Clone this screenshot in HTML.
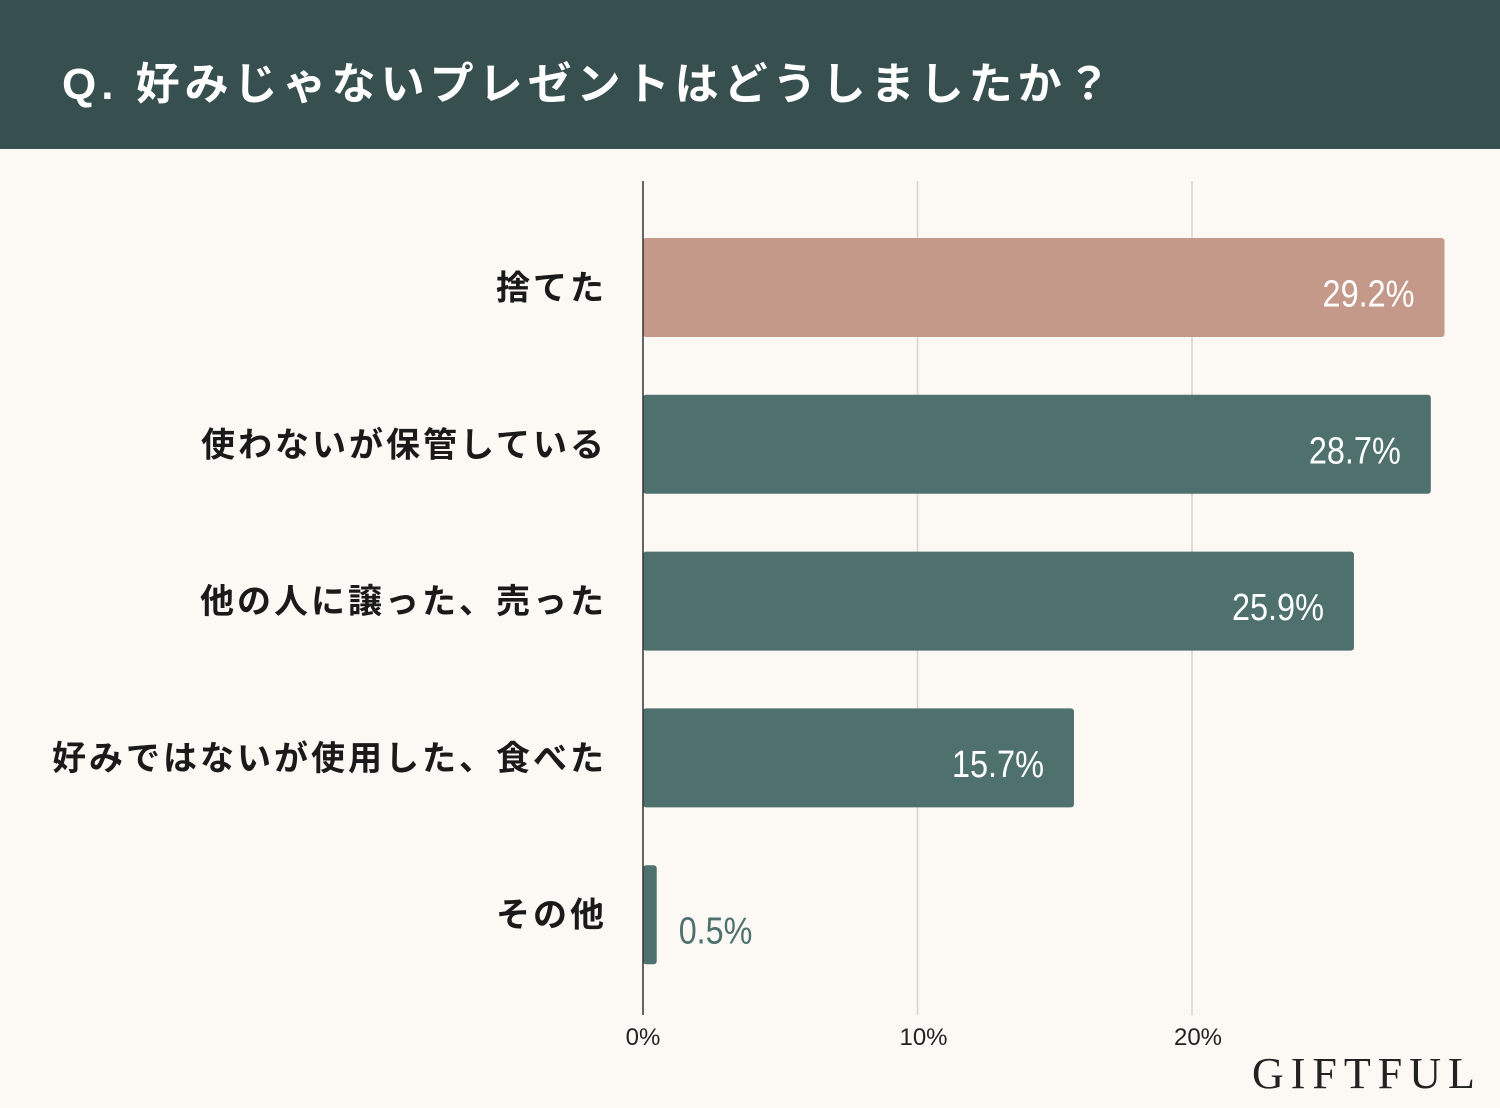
<!DOCTYPE html>
<html><head><meta charset="utf-8"><style>
body{margin:0;width:1500px;height:1108px;background:#fcf9f5;overflow:hidden;font-family:"Liberation Sans","Noto Sans CJK JP",sans-serif}
#hdr{position:absolute;left:0;top:0;width:1500px;height:149px;background:#37504f}
#ttl{position:absolute;left:62px;top:48px;color:#fff;font-size:44px;font-weight:bold;letter-spacing:5px;white-space:nowrap}
svg{position:absolute;left:0;top:0}
</style></head><body>
<div id="hdr"><div id="ttl">Q. 好みじゃないプレゼントはどうしましたか？</div></div>
<svg id="c" width="1500" height="1108"></svg>
<script>
const categories=["捨てた","使わないが保管している","他の人に譲った、売った","好みではないが使用した、食べた","その他"];
const values=[29.2,28.7,25.9,15.7,0.5];
const ticks=[0,10,20];
const tickLabels=["0%","10%","20%"];
const NS="http://www.w3.org/2000/svg";
const svg=document.getElementById('c');
const x0=643, pxPer=27.45;
const xs=v=>x0+v*pxPer;
const yTop=238, step=156.8, bh=99;
const ys=i=>yTop+i*step;
function mk(t,a,txt){const e=document.createElementNS(NS,t);for(const k in a)e.setAttribute(k,a[k]);if(txt!=null)e.textContent=txt;svg.appendChild(e);return e;}
ticks.forEach((t,i)=>{
  if(t>0){const g=mk('line',{x1:xs(t),x2:xs(t),y1:181,y2:1015,stroke:'#d6d4d0','stroke-width':1.5});
  
  }
  const l=mk('text',{x:xs(t)+(t?6:0),y:1045,'text-anchor':'middle','font-size':24,fill:'#222'},tickLabels[i]);
  
  
});
values.forEach((v,i)=>{
  const w=Math.max(xs(v)-x0,12);
  const r=mk('rect',{x:x0,y:ys(i),width:w,height:bh,rx:3,fill:i===0?'#c49989':'#4e716e'});
  
  
  const c=mk('text',{x:607,y:ys(i)+bh/2+12,'text-anchor':'end','font-size':34,'font-weight':'bold','letter-spacing':3,fill:'#1a1a1a'},categories[i]);
  
  
  const inside=w>120;
  const s=v.toFixed(1)+'%';
  const t=mk('text',{x:inside?x0+w-30:x0+w+22,y:ys(i)+bh/2+(inside?19:29),'text-anchor':inside?'end':'start','font-size':38,textLength:s.length*18.4,lengthAdjust:'spacingAndGlyphs',fill:inside?'#fff':'#4e716e'},s);
  
  
});
const ax=mk('line',{x1:x0,x2:x0,y1:181,y2:1015,stroke:'#333','stroke-width':1.5});


const logo=mk('text',{x:1252,y:1088,'font-size':44,fill:'#222','letter-spacing':7,'font-family':'"Liberation Serif",serif'},'GIFTFUL');


</script>
</body></html>
